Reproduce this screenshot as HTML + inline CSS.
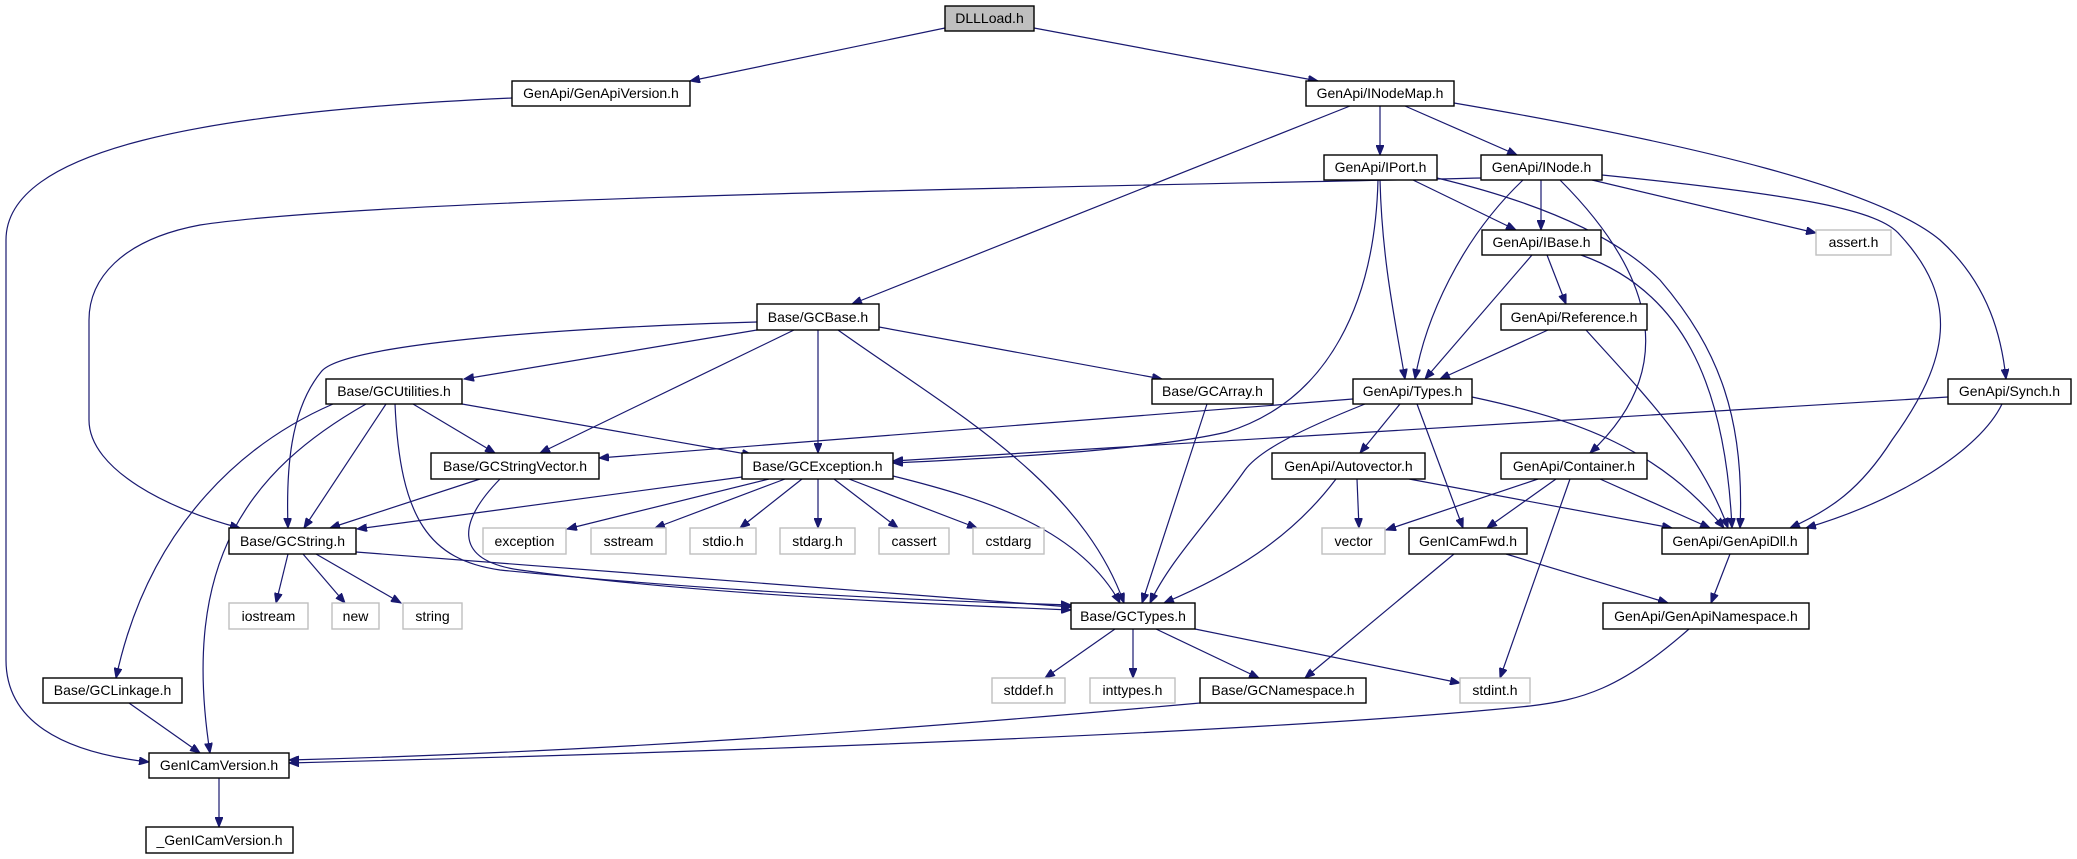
<!DOCTYPE html>
<html><head><meta charset="utf-8"><style>
html,body{margin:0;padding:0;background:#fff;}
svg{display:block;}
text{font-family:"Liberation Sans",sans-serif;font-size:14px;fill:#000;}
.b rect{fill:#fff;stroke:#000;stroke-width:1.4;}
.g rect{fill:#fff;stroke:#bfbfbf;stroke-width:1.4;}
path{fill:none;stroke:#191970;stroke-width:1.2;}
</style></head><body>
<svg width="2077" height="859" viewBox="0 0 2077 859" xmlns="http://www.w3.org/2000/svg">
<defs><marker id="a" markerUnits="userSpaceOnUse" markerWidth="11" markerHeight="8" refX="10" refY="4" orient="auto"><polygon points="0,0 10,4 0,8" fill="#191970" stroke="#191970"/></marker></defs>
<g marker-end="url(#a)">
<path d="M945,28 L690,81"/>
<path d="M1034,28 L1318,81"/>
<path d="M512,98 C200,112 6,150 6,240 L6,660 C6,720 60,752 149,762"/>
<path d="M1350,106 L852,304"/>
<path d="M1380,106 L1380,155"/>
<path d="M1405,106 L1517,155"/>
<path d="M1454,103 C1700,145 1880,190 1940,240 C1990,285 2002,340 2006,379"/>
<path d="M1481,178 C1200,185 400,195 200,225 C120,240 89,280 89,320 L89,420 C89,470 170,510 240,528"/>
<path d="M1413,180 L1516,230"/>
<path d="M1437,178 C1550,205 1620,240 1660,280 C1720,350 1745,420 1740,528"/>
<path d="M1380,180 C1382,260 1395,320 1405,379"/>
<path d="M1378,180 C1375,300 1330,400 1227,432 C1150,450 1000,458 893,463"/>
<path d="M1541,180 L1541,230"/>
<path d="M1523,180 C1460,240 1425,320 1415,379"/>
<path d="M1560,180 C1640,260 1690,360 1590,453"/>
<path d="M1592,180 L1816,233"/>
<path d="M1602,175 C1800,195 1880,210 1900,235 C1960,300 1950,360 1892,440 C1860,490 1830,510 1790,528"/>
<path d="M1532,255 L1425,379"/>
<path d="M1547,255 L1566,304"/>
<path d="M1581,255 C1680,290 1725,380 1732,528"/>
<path d="M1548,330 L1440,379"/>
<path d="M1586,330 C1640,390 1700,450 1728,528"/>
<path d="M757,330 L464,379"/>
<path d="M757,322 C550,328 340,345 321,372 C290,410 286,470 288,528"/>
<path d="M794,330 L540,453"/>
<path d="M818,330 L818,453"/>
<path d="M838,330 C950,410 1080,480 1124,603"/>
<path d="M879,327 L1162,379"/>
<path d="M413,404 L495,453"/>
<path d="M386,404 L304,528"/>
<path d="M333,404 C250,440 150,520 116,678"/>
<path d="M366,404 C250,470 180,560 210,753"/>
<path d="M395,404 C400,520 430,560 500,570 C700,590 900,600 1071,605"/>
<path d="M462,404 L752,455"/>
<path d="M480,479 L330,528"/>
<path d="M500,479 C460,520 450,560 520,570 C700,595 950,605 1071,610"/>
<path d="M356,552 L1071,607"/>
<path d="M288,554 L276,603"/>
<path d="M303,554 L345,603"/>
<path d="M316,554 L401,603"/>
<path d="M742,477 L357,529"/>
<path d="M769,479 L567,529"/>
<path d="M785,479 L655,528"/>
<path d="M802,479 L740,528"/>
<path d="M818,479 L818,528"/>
<path d="M834,479 L898,528"/>
<path d="M849,479 L977,528"/>
<path d="M893,476 C990,500 1080,530 1120,603"/>
<path d="M1353,399 L599,458"/>
<path d="M1365,404 C1300,430 1260,450 1245,470 C1210,520 1170,560 1150,603"/>
<path d="M1400,404 L1360,453"/>
<path d="M1417,404 L1463,528"/>
<path d="M1472,397 C1580,420 1660,450 1724,528"/>
<path d="M1948,397 L893,461"/>
<path d="M2002,404 C1980,450 1900,500 1806,528"/>
<path d="M1357,479 L1359,528"/>
<path d="M1336,479 C1290,540 1230,575 1164,603"/>
<path d="M1409,479 L1672,528"/>
<path d="M1538,479 L1386,530"/>
<path d="M1556,479 L1487,528"/>
<path d="M1570,479 L1500,678"/>
<path d="M1600,479 L1710,528"/>
<path d="M1506,554 L1668,603"/>
<path d="M1454,554 L1305,678"/>
<path d="M1730,554 L1711,603"/>
<path d="M1689,629 C1620,690 1580,700 1530,706 C1300,730 800,750 289,763"/>
<path d="M1200,703 C900,730 600,752 289,760"/>
<path d="M129,703 L200,753"/>
<path d="M219,778 L219,827"/>
<path d="M1115,629 L1045,678"/>
<path d="M1133,629 L1133,678"/>
<path d="M1156,629 L1259,678"/>
<path d="M1195,629 L1460,683"/>
<path d="M1207,404 L1142,603"/>
</g>

<g class="b">
<rect x="945" y="6" width="89" height="25" style="fill:#bfbfbf"/><text x="989.5" y="23" text-anchor="middle">DLLLoad.h</text>
<rect x="512" y="81" width="178" height="25"/><text x="601" y="98" text-anchor="middle">GenApi/GenApiVersion.h</text>
<rect x="1306" y="81" width="148" height="25"/><text x="1380" y="98" text-anchor="middle">GenApi/INodeMap.h</text>
<rect x="1324" y="155" width="113" height="25"/><text x="1380.5" y="172" text-anchor="middle">GenApi/IPort.h</text>
<rect x="1481" y="155" width="121" height="25"/><text x="1541.5" y="172" text-anchor="middle">GenApi/INode.h</text>
<rect x="1482" y="230" width="119" height="25"/><text x="1541.5" y="247" text-anchor="middle">GenApi/IBase.h</text>
<rect x="1501" y="304" width="146" height="26"/><text x="1574" y="322" text-anchor="middle">GenApi/Reference.h</text>
<rect x="757" y="304" width="122" height="26"/><text x="818" y="322" text-anchor="middle">Base/GCBase.h</text>
<rect x="326" y="379" width="136" height="25"/><text x="394" y="396" text-anchor="middle">Base/GCUtilities.h</text>
<rect x="1152" y="379" width="121" height="25"/><text x="1212.5" y="396" text-anchor="middle">Base/GCArray.h</text>
<rect x="1353" y="379" width="119" height="25"/><text x="1412.5" y="396" text-anchor="middle">GenApi/Types.h</text>
<rect x="1948" y="379" width="123" height="25"/><text x="2009.5" y="396" text-anchor="middle">GenApi/Synch.h</text>
<rect x="431" y="453" width="168" height="26"/><text x="515" y="471" text-anchor="middle">Base/GCStringVector.h</text>
<rect x="742" y="453" width="151" height="26"/><text x="817.5" y="471" text-anchor="middle">Base/GCException.h</text>
<rect x="1272" y="453" width="153" height="26"/><text x="1348.5" y="471" text-anchor="middle">GenApi/Autovector.h</text>
<rect x="1501" y="453" width="146" height="26"/><text x="1574" y="471" text-anchor="middle">GenApi/Container.h</text>
<rect x="229" y="528" width="127" height="26"/><text x="292.5" y="546" text-anchor="middle">Base/GCString.h</text>
<rect x="1409" y="528" width="118" height="26"/><text x="1468" y="546" text-anchor="middle">GenICamFwd.h</text>
<rect x="1662" y="528" width="146" height="26"/><text x="1735" y="546" text-anchor="middle">GenApi/GenApiDll.h</text>
<rect x="1071" y="603" width="124" height="26"/><text x="1133" y="621" text-anchor="middle">Base/GCTypes.h</text>
<rect x="1603" y="603" width="206" height="26"/><text x="1706" y="621" text-anchor="middle">GenApi/GenApiNamespace.h</text>
<rect x="43" y="678" width="139" height="25"/><text x="112.5" y="695" text-anchor="middle">Base/GCLinkage.h</text>
<rect x="1200" y="678" width="166" height="25"/><text x="1283" y="695" text-anchor="middle">Base/GCNamespace.h</text>
<rect x="149" y="753" width="140" height="25"/><text x="219" y="770" text-anchor="middle">GenICamVersion.h</text>
<rect x="146" y="827" width="147" height="26"/><text x="219.5" y="845" text-anchor="middle">_GenICamVersion.h</text>
</g>
<g class="g">
<rect x="1816" y="230" width="75" height="25"/><text x="1853.5" y="247" text-anchor="middle">assert.h</text>
<rect x="483" y="528" width="83" height="26"/><text x="524.5" y="546" text-anchor="middle">exception</text>
<rect x="591" y="528" width="75" height="26"/><text x="628.5" y="546" text-anchor="middle">sstream</text>
<rect x="690" y="528" width="66" height="26"/><text x="723" y="546" text-anchor="middle">stdio.h</text>
<rect x="780" y="528" width="75" height="26"/><text x="817.5" y="546" text-anchor="middle">stdarg.h</text>
<rect x="879" y="528" width="70" height="26"/><text x="914" y="546" text-anchor="middle">cassert</text>
<rect x="973" y="528" width="71" height="26"/><text x="1008.5" y="546" text-anchor="middle">cstdarg</text>
<rect x="1322" y="528" width="63" height="26"/><text x="1353.5" y="546" text-anchor="middle">vector</text>
<rect x="229" y="603" width="79" height="26"/><text x="268.5" y="621" text-anchor="middle">iostream</text>
<rect x="332" y="603" width="47" height="26"/><text x="355.5" y="621" text-anchor="middle">new</text>
<rect x="403" y="603" width="59" height="26"/><text x="432.5" y="621" text-anchor="middle">string</text>
<rect x="992" y="678" width="73" height="25"/><text x="1028.5" y="695" text-anchor="middle">stddef.h</text>
<rect x="1090" y="678" width="85" height="25"/><text x="1132.5" y="695" text-anchor="middle">inttypes.h</text>
<rect x="1460" y="678" width="70" height="25"/><text x="1495" y="695" text-anchor="middle">stdint.h</text>
</g>
</svg>
</body></html>
